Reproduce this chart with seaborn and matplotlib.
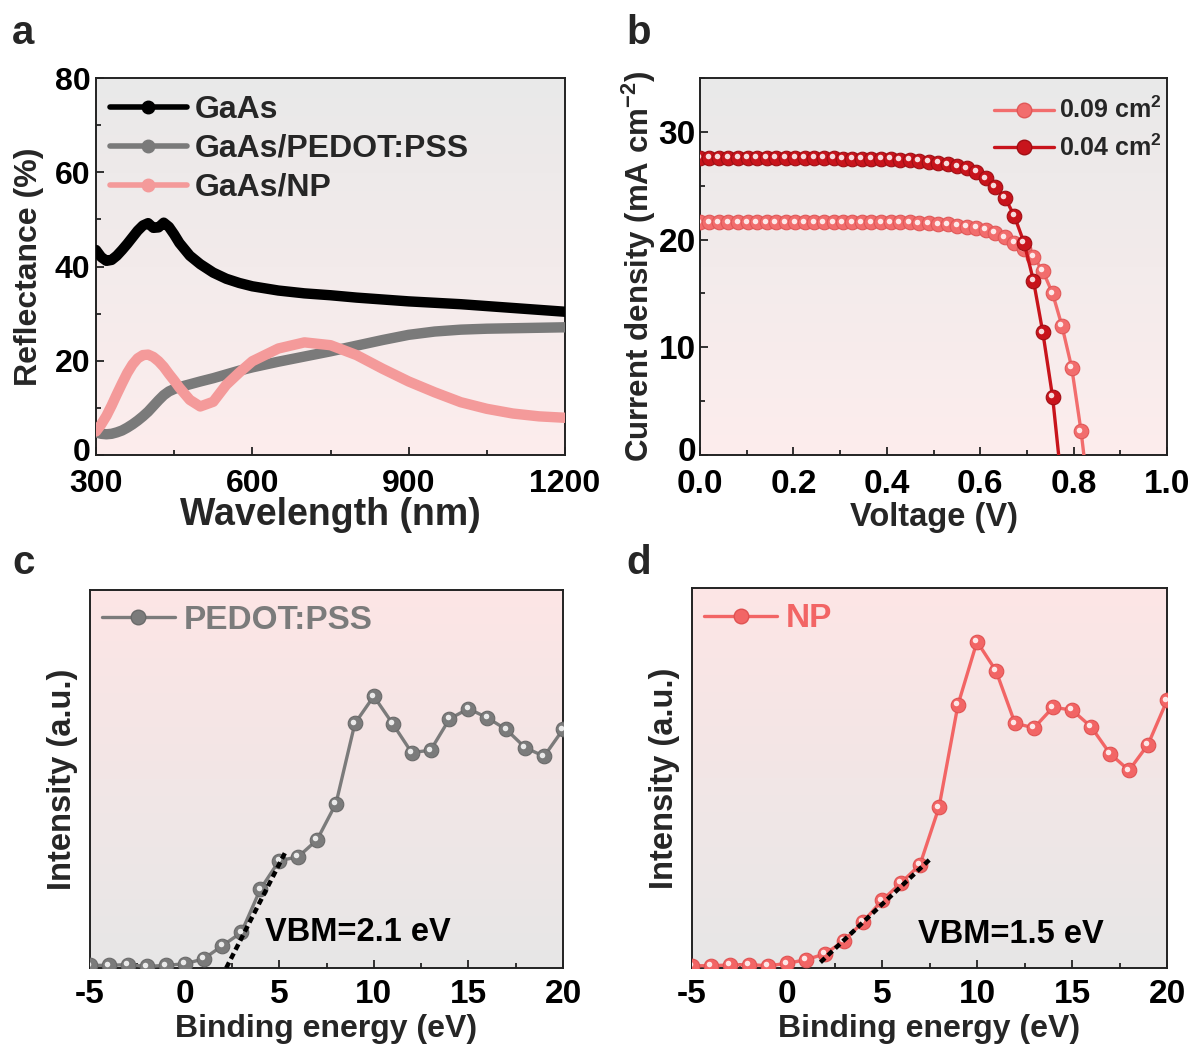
import numpy as np
import pandas as pd
import seaborn as sns
import matplotlib
matplotlib.use("Agg")
import matplotlib.pyplot as plt
from matplotlib.colors import LinearSegmentedColormap
from matplotlib.lines import Line2D
from matplotlib.transforms import offset_copy, ScaledTranslation
from matplotlib.ticker import MultipleLocator, NullLocator

# ---------------- data ----------------
# panel a : reflectance spectra
wavelength = [300, 310, 320, 330, 340, 350, 360, 370, 380, 390, 400, 410, 420, 430, 440,
              450, 460, 480, 500, 525, 550, 575, 600, 650, 700, 750, 800, 850, 900, 950,
              1000, 1050, 1100, 1150, 1200]
refl_gaas = [43.5, 42.0, 41.2, 41.4, 42.3, 43.5, 44.8, 46.2, 47.6, 48.7, 49.2, 48.2, 48.3, 49.3, 48.4,
             46.8, 45.0, 42.3, 40.5, 38.7, 37.4, 36.5, 35.8, 34.9, 34.3, 33.9, 33.4, 33.0, 32.6, 32.3,
             32.0, 31.6, 31.2, 30.8, 30.4]
refl_pedot = [4.8, 4.5, 4.4, 4.5, 4.8, 5.2, 5.8, 6.5, 7.3, 8.2, 9.2, 10.4, 11.6, 12.7, 13.5,
              14.0, 14.4, 15.0, 15.6, 16.3, 17.1, 17.9, 18.6, 19.8, 20.9, 22.0, 23.2, 24.4, 25.5, 26.2,
              26.6, 26.8, 26.9, 27.0, 27.1]
refl_np = [5.0, 6.5, 8.3, 10.5, 12.9, 15.2, 17.4, 19.2, 20.5, 21.2, 21.3, 20.8, 19.9, 18.7, 17.2,
           15.8, 14.3, 11.7, 10.3, 11.3, 14.9, 17.5, 19.9, 22.6, 23.9, 23.3, 21.2, 18.3, 15.6, 13.3,
           11.2, 9.8, 8.8, 8.2, 7.9]
series_a = ["GaAs", "GaAs/PEDOT:PSS", "GaAs/NP"]

# panel b : J-V curves
voltage = [0.000, 0.020, 0.041, 0.061, 0.082, 0.102, 0.122, 0.143, 0.163, 0.184, 0.204,
           0.224, 0.245, 0.265, 0.286, 0.306, 0.326, 0.347, 0.367, 0.388, 0.408, 0.428,
           0.449, 0.469, 0.490, 0.510, 0.530, 0.551, 0.571, 0.592, 0.612, 0.632, 0.653,
           0.673, 0.694, 0.714, 0.734, 0.755, 0.775, 0.796, 0.816]
j_004 = [27.6, 27.6, 27.6, 27.6, 27.6, 27.6, 27.6, 27.6, 27.6, 27.6, 27.6,
         27.6, 27.6, 27.6, 27.6, 27.5, 27.5, 27.5, 27.5, 27.5, 27.5, 27.4,
         27.4, 27.3, 27.2, 27.1, 27.0, 26.8, 26.6, 26.3, 25.7, 24.9, 23.9,
         22.2, 19.7, 16.2, 11.4, 5.4]
voc_004 = 0.768
j_009 = [21.6, 21.6, 21.6, 21.6, 21.6, 21.6, 21.6, 21.6, 21.6, 21.6, 21.6,
         21.6, 21.6, 21.6, 21.6, 21.6, 21.6, 21.6, 21.6, 21.6, 21.6, 21.6,
         21.6, 21.5, 21.5, 21.4, 21.4, 21.3, 21.2, 21.1, 20.9, 20.6, 20.2,
         19.7, 19.1, 18.4, 17.1, 15.0, 12.0, 8.1, 2.2]
voc_009 = 0.822
series_b = ["0.09 cm$^2$", "0.04 cm$^2$"]

# panels c, d : UPS valence band spectra
energy = [-5, -4, -3, -2, -1, 0, 1, 2, 3, 4, 5, 6, 7, 8, 9, 10, 11, 12, 13, 14, 15, 16, 17, 18, 19, 20]
int_pedot = [0.7, 0.7, 0.9, 0.4, 0.7, 1.1, 2.4, 5.9, 9.4, 20.8, 28.4, 29.4, 33.9, 43.5, 64.7,
             71.9, 64.6, 57.0, 57.6, 65.9, 68.6, 66.2, 63.1, 58.3, 56.0, 63.1]
int_np = [0.6, 0.6, 0.8, 0.9, 0.6, 1.2, 2.2, 3.7, 7.2, 12.1, 17.8, 22.4, 27.2, 42.3, 69.3,
          85.9, 78.2, 64.4, 63.2, 68.6, 67.9, 63.5, 56.4, 52.0, 58.8, 70.4]
fit_pedot_x = [2.2, 5.3]
fit_pedot_y = [0.0, 30.4]
fit_np_x = [1.76, 7.5]
fit_np_y = [1.5, 28.5]
vbm_pedot = "VBM=2.1 eV"
vbm_np = "VBM=1.5 eV"

# ---------------- style ----------------
sns.set_theme(style="ticks")
plt.rcParams["font.family"] = ["Liberation Sans", "DejaVu Sans"]
plt.rcParams["font.weight"] = "bold"
plt.rcParams["axes.labelweight"] = "bold"
plt.rcParams["axes.unicode_minus"] = False
plt.rcParams["mathtext.fontset"] = "custom"
plt.rcParams["mathtext.rm"] = "Liberation Sans:bold"
plt.rcParams["mathtext.bf"] = "Liberation Sans:bold"
plt.rcParams["mathtext.it"] = "Liberation Sans:bold"
plt.rcParams["mathtext.default"] = "bf"

W, H = 1195, 1048
fig = plt.figure(figsize=(W / 100, H / 100), dpi=100)
fig.patch.set_facecolor("white")


def box(l, t, r, b):
    return [l / W, 1 - b / H, (r - l) / W, (b - t) / H]


def gradient(ax, top, bottom):
    cmap = LinearSegmentedColormap.from_list("g", [bottom, top])
    grad = np.linspace(0, 1, 256).reshape(-1, 1)
    ax.imshow(grad, cmap=cmap, extent=[0, 1, 0, 1], transform=ax.transAxes,
              origin="lower", aspect="auto", zorder=-10, interpolation="bilinear")


def style_axes(ax, fs, xpad=5, ypad=5):
    for s in ax.spines.values():
        s.set_linewidth(1.4)
        s.set_color("#222222")
    ax.tick_params(which="both", direction="in", width=1.3, colors="#222222",
                   labelsize=fs)
    ax.tick_params(axis="x", which="both", pad=xpad)
    ax.tick_params(axis="y", which="both", pad=ypad)
    ax.tick_params(which="major", length=6)
    ax.tick_params(which="minor", length=3.5)
    for lab in ax.get_xticklabels() + ax.get_yticklabels():
        lab.set_fontweight("bold")
        lab.set_color("black")


def highlights(ax, x, y, ms, z=5):
    tr = offset_copy(ax.transData, fig=fig, x=-1.2, y=1.2, units="points")
    ax.plot(x, y, "o", ms=ms * 0.38, color="white", alpha=0.85, mec="none",
            transform=tr, zorder=z, clip_on=True)


# ---------------- panel a ----------------
ax_a = fig.add_axes(box(96, 78, 565, 455))
gradient(ax_a, "#e9e9e9", "#fdeded")
colors_a = ["#000000", "#7a7a7a", "#f49a9a"]
for vals, c, lab in zip([refl_gaas, refl_pedot, refl_np], colors_a, series_a):
    df = pd.DataFrame({"wl": wavelength, "R": vals})
    sns.lineplot(data=df, x="wl", y="R", ax=ax_a, color=c, lw=7.5, sort=False,
                 estimator=None, legend=False, solid_capstyle="round", zorder=3)
ax_a.set_xlim(300, 1200)
ax_a.set_ylim(0, 80)
ax_a.xaxis.set_major_locator(MultipleLocator(300))
ax_a.xaxis.set_minor_locator(MultipleLocator(150))
ax_a.yaxis.set_major_locator(MultipleLocator(20))
ax_a.yaxis.set_minor_locator(MultipleLocator(10))
style_axes(ax_a, 23, xpad=10, ypad=4)
ax_a.set_xlabel("Wavelength (nm)", fontsize=27, fontweight="bold")
ax_a.set_ylabel("Reflectance (%)", fontsize=23, fontweight="bold")
ax_a.xaxis.set_label_coords(0.5, -0.112)
ax_a.yaxis.set_label_coords(-0.11, 0.5)
handles_a = [Line2D([], [], color=c, lw=4, marker="o", ms=9, mfc=c, mec=c) for c in colors_a]
leg = ax_a.legend(handles_a, series_a, loc="upper left", bbox_to_anchor=(0.03, 0.955),
                  frameon=False, fontsize=23, handlelength=2.4, handletextpad=0.25,
                  labelspacing=0.28, borderaxespad=0, borderpad=0)
for t in leg.get_texts():
    t.set_fontweight("bold")

# ---------------- panel b ----------------
ax_b = fig.add_axes(box(700, 78, 1167, 455))
gradient(ax_b, "#e9e9e9", "#fdeded")
col_009, edge_009 = "#f26d6d", "#e05858"
col_004, edge_004 = "#c8141c", "#a00e14"
n9 = len(j_009)
n4 = len(j_004)
df9 = pd.DataFrame({"V": voltage[:n9] + [voc_009], "J": j_009 + [0.0]})
df4 = pd.DataFrame({"V": voltage[:n4] + [voc_004], "J": j_004 + [0.0]})
sns.lineplot(data=df9, x="V", y="J", ax=ax_b, color=col_009, lw=2.4, sort=False,
             estimator=None, legend=False, zorder=3)
ax_b.plot(voltage[:n9], j_009, "o", ms=10.5, color=col_009, mec=edge_009, mew=0.8, zorder=4)
highlights(ax_b, voltage[:n9], j_009, 10.5, z=4.5)
sns.lineplot(data=df4, x="V", y="J", ax=ax_b, color=col_004, lw=2.4, sort=False,
             estimator=None, legend=False, zorder=5)
ax_b.plot(voltage[:n4], j_004, "o", ms=10.5, color=col_004, mec=edge_004, mew=0.8, zorder=6)
highlights(ax_b, voltage[:n4], j_004, 10.5, z=6.5)
ax_b.set_xlim(0, 1.0)
ax_b.set_ylim(0, 35)
ax_b.xaxis.set_major_locator(MultipleLocator(0.2))
ax_b.xaxis.set_minor_locator(MultipleLocator(0.1))
ax_b.yaxis.set_major_locator(MultipleLocator(10))
ax_b.yaxis.set_minor_locator(MultipleLocator(5))
ax_b.set_xticks([0, 0.2, 0.4, 0.6, 0.8, 1.0])
ax_b.set_xticklabels(["0.0", "0.2", "0.4", "0.6", "0.8", "1.0"])
style_axes(ax_b, 24, xpad=10, ypad=3)
ax_b.set_xlabel("Voltage (V)", fontsize=23.5, fontweight="bold")
ax_b.set_ylabel("Current density (mA cm$^{-2}$)", fontsize=22.5, fontweight="bold")
ax_b.xaxis.set_label_coords(0.5, -0.125)
ax_b.yaxis.set_label_coords(-0.09, 0.5)
handles_b = [Line2D([], [], color=col_009, lw=2.4, marker="o", ms=10.5, mec=edge_009),
             Line2D([], [], color=col_004, lw=2.4, marker="o", ms=10.5, mec=edge_004)]
leg = ax_b.legend(handles_b, series_b, loc="upper right", bbox_to_anchor=(0.99, 0.95),
                  frameon=False, fontsize=18, handlelength=2.4, handletextpad=0.2,
                  labelspacing=0.45, borderaxespad=0, borderpad=0)
for t in leg.get_texts():
    t.set_fontweight("bold")


# ---------------- panels c, d ----------------
def ups_panel(rect, y, color, edge, label, fitx, fity, vbm, vbm_xy):
    ax = fig.add_axes(box(*rect))
    gradient(ax, "#fde5e5", "#e7e7e7")
    df = pd.DataFrame({"E": energy, "I": y})
    sns.lineplot(data=df, x="E", y="I", ax=ax, color=color, lw=2.4, sort=False,
                 estimator=None, legend=False, zorder=3)
    ax.plot(energy, y, "o", ms=10.5, color=color, mec=edge, mew=0.8, zorder=4)
    highlights(ax, energy, y, 10.5, z=4.5)
    ax.plot(fitx, fity, color="black", lw=3.2, ls=(0, (1.4, 0.9)), zorder=6,
            solid_capstyle="butt", dash_capstyle="butt")
    ax.set_xlim(-5, 20)
    ax.set_ylim(0, 100)
    ax.xaxis.set_major_locator(MultipleLocator(5))
    ax.xaxis.set_minor_locator(MultipleLocator(2.5))
    ax.yaxis.set_major_locator(NullLocator())
    ax.yaxis.set_minor_locator(NullLocator())
    style_axes(ax, 24, xpad=8, ypad=4)
    ax.set_xlabel("Binding energy (eV)", fontsize=23, fontweight="bold")
    ax.set_ylabel("Intensity (a.u.)", fontsize=23.5, fontweight="bold")
    ax.xaxis.set_label_coords(0.5, -0.122)
    ax.yaxis.set_label_coords(-0.025, 0.5)
    h = [Line2D([], [], color=color, lw=2.4, marker="o", ms=10.5, mec=edge)]
    leg = ax.legend(h, [label], loc="upper left", bbox_to_anchor=(0.025, 0.96),
                    frameon=False, fontsize=24, handlelength=2.2, handletextpad=0.25,
                    borderaxespad=0, borderpad=0)
    for t in leg.get_texts():
        t.set_fontweight("bold")
        t.set_color(color)
    ax.text(vbm_xy[0], vbm_xy[1], vbm, fontsize=23.5, fontweight="bold", color="black",
            ha="left", va="center", zorder=7)
    return ax


ax_c = ups_panel((90, 590, 563, 968), int_pedot, "#7b7b7b", "#6a6a6a", "PEDOT:PSS",
                 fit_pedot_x, fit_pedot_y, vbm_pedot, (4.25, 9.5))
ax_d = ups_panel((692, 588, 1167, 968), int_np, "#f26565", "#e05252", "NP",
                 fit_np_x, fit_np_y, vbm_np, (6.9, 8.7))

# panel letters
for x, y, s in [(12, 44, "a"), (626, 44, "b"), (12, 574, "c"), (626, 574, "d")]:
    fig.text(x / W, 1 - y / H, s, fontsize=29, fontweight="bold", ha="left", va="baseline")

# lift the "0" y-tick label slightly so it does not collide with the first x-tick label
fig.canvas.draw()
for ax in (ax_a, ax_b):
    for tick in ax.yaxis.get_major_ticks():
        if abs(tick.get_loc()) < 1e-9:
            tick.label1.set_transform(tick.label1.get_transform()
                                      + ScaledTranslation(0, 4 / 72, fig.dpi_scale_trans))

fig.savefig("out.png", dpi=100, facecolor="white")
